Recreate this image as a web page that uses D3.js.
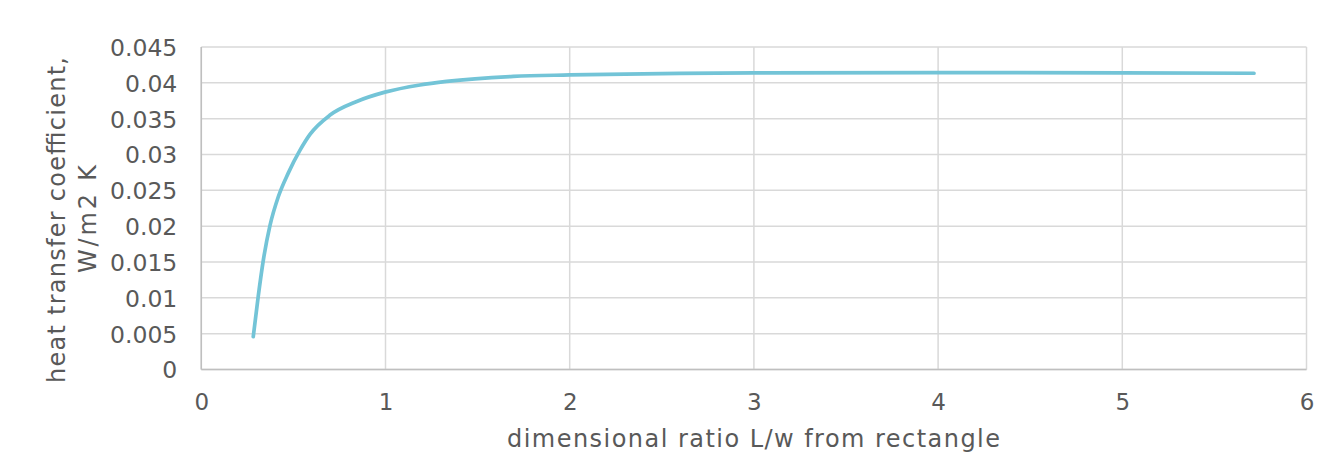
<!DOCTYPE html>
<html>
<head>
<meta charset="utf-8">
<script src="https://cdn.jsdelivr.net/npm/d3@7"></script>
<style>
  html, body { margin: 0; padding: 0; background: #fff; }
  svg { display: block; }
  text { font-family: "DejaVu Sans", Verdana, sans-serif; fill: #595959; }
</style>
</head>
<body>
<svg id="chart" width="1339" height="452"></svg>
<script>
const ratioX = [0.282, 0.309, 0.337, 0.373, 0.418, 0.472, 0.536, 0.590, 0.699, 0.844, 0.997, 1.187, 1.332, 1.694, 2.0, 2.6, 3.0, 4.0, 5.0, 5.715];
const heatCoef = [0.00458, 0.0102, 0.0153, 0.0201, 0.0241, 0.0274, 0.0306, 0.0328, 0.0355, 0.0374, 0.0387, 0.0397, 0.0402, 0.0409, 0.0411, 0.04133, 0.0414, 0.04142, 0.0414, 0.04134];
const xTicks = [0, 1, 2, 3, 4, 5, 6];
const yTicks = [0, 0.005, 0.01, 0.015, 0.02, 0.025, 0.03, 0.035, 0.04, 0.045];
const yTickLabels = ["0", "0.005", "0.01", "0.015", "0.02", "0.025", "0.03", "0.035", "0.04", "0.045"];

const svg = d3.select("#chart");
const pLeft = 201.3, pRight = 1306.5, pTop = 47, pBottom = 369.5;
const x = d3.scaleLinear().domain([0, 6]).range([pLeft, pRight]);
const y = d3.scaleLinear().domain([0, 0.045]).range([pBottom, pTop]);

// grid
const grid = svg.append("g");
grid.selectAll("line.h").data(yTicks).join("line").attr("class", "h")
  .attr("x1", pLeft).attr("x2", pRight)
  .attr("y1", d => y(d)).attr("y2", d => y(d))
  .attr("stroke", "#d9d9d9").attr("stroke-width", 1.5);
grid.selectAll("line.v").data(xTicks).join("line").attr("class", "v")
  .attr("y1", pTop).attr("y2", pBottom)
  .attr("x1", d => x(d)).attr("x2", d => x(d))
  .attr("stroke", "#d9d9d9").attr("stroke-width", 1.5);

// axes lines
svg.append("line").attr("x1", pLeft).attr("x2", pRight).attr("y1", pBottom).attr("y2", pBottom)
  .attr("stroke", "#bfbfbf").attr("stroke-width", 1.5);
svg.append("line").attr("x1", pLeft).attr("x2", pLeft).attr("y1", pTop).attr("y2", pBottom)
  .attr("stroke", "#bfbfbf").attr("stroke-width", 1.5);

// axes via d3
const xAxis = d3.axisBottom(x).tickValues(xTicks).tickSize(0).tickPadding(0).tickFormat(d3.format("d"));
const gx = svg.append("g").attr("transform", `translate(0,${pBottom})`).call(xAxis);
gx.select(".domain").remove();
gx.selectAll("text").attr("dy", null).attr("y", 40).style("font-size", "23px")
  .style("font-family", '"DejaVu Sans", Verdana, sans-serif').attr("fill", "#595959");

const yAxis = d3.axisLeft(y).tickValues(yTicks).tickSize(0).tickPadding(0)
  .tickFormat((d, i) => yTickLabels[i]);
const gy = svg.append("g").attr("transform", `translate(${pLeft},0)`).call(yAxis);
gy.select(".domain").remove();
gy.selectAll("text").attr("x", -24).attr("dy", "0.36em").style("font-size", "23.5px")
  .style("font-family", '"DejaVu Sans", Verdana, sans-serif').attr("fill", "#595959");

// line
const data = ratioX.map((d, i) => [d, heatCoef[i]]);
svg.append("path").datum(data)
  .attr("fill", "none").attr("stroke", "#73c4d7").attr("stroke-width", 3.7)
  .attr("stroke-linecap", "round").attr("stroke-linejoin", "round")
  .attr("d", d3.line().x(d => x(d[0])).y(d => y(d[1])).curve(d3.curveMonotoneX));

// titles
svg.append("text").attr("x", 507).attr("y", 447)
  .attr("textLength", 493).attr("lengthAdjust", "spacing")
  .style("font-size", "24px").text("dimensional ratio L/w from rectangle");
const yt = svg.append("g").attr("transform", "translate(0,383) rotate(-90)");
yt.append("text").attr("x", 0).attr("y", 65)
  .attr("textLength", 326).attr("lengthAdjust", "spacing")
  .style("font-size", "24px").text("heat transfer coefficient,");
yt.append("text").attr("x", 383 - 273).attr("y", 96)
  .attr("textLength", 108).attr("lengthAdjust", "spacing")
  .style("font-size", "24px").text("W/m2 K");
</script>
</body>
</html>
